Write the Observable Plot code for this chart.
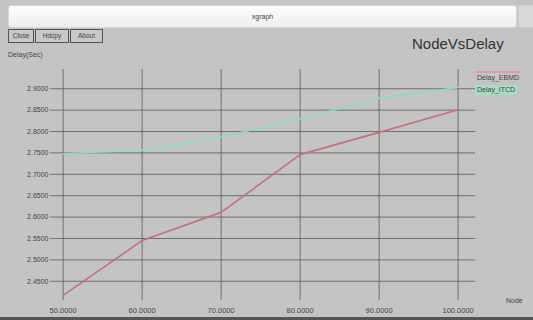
<!DOCTYPE html>
<html>
<head>
<meta charset="utf-8">
<script src="https://cdn.jsdelivr.net/npm/d3@7"></script>
<script src="https://cdn.jsdelivr.net/npm/@observablehq/plot@0.6"></script>
<style>
  html, body { margin: 0; padding: 0; background: #c4c4c4; }
  #win { position: relative; width: 533px; height: 320px; overflow: hidden; background: #c4c4c4;
         font-family: "Liberation Sans", Arial, sans-serif; color: #333; }
  #titlebar { position: absolute; left: 8px; top: 5px; width: 507px; height: 21px;
              background: linear-gradient(#fdfdfd, #eeeeee); border: 1px solid #d8d8d8; border-radius: 3px;
              text-align: center; font-size: 7px; line-height: 21px; color: #444; }
  #closebox { position: absolute; left: 518px; top: 5px; width: 15px; height: 21px; background: #d9d9d9; border: 1px solid #cfcfcf; }
  .btn { position: absolute; top: 29px; height: 12px; border: 1px solid #555; font-size: 6.5px; line-height: 12px;
         text-align: center; color: #444; background: #c8c8c8; }
  #maintitle { position: absolute; left: 412px; top: 35px; font-size: 15px; color: #333; }
  #ylab { position: absolute; left: 8px; top: 51px; font-size: 7px; color: #444; }
  #xlab { position: absolute; left: 506px; top: 297px; font-size: 7px; color: #444; }
  .leg { position: absolute; left: 475px; font-size: 7px; color: #444; padding: 0 2px; line-height: 10px; }
  #bottom { position: absolute; left: 0; top: 317px; width: 533px; height: 3px; background: #555; }
  #plot { position: absolute; left: 0; top: 0; }
</style>
</head>
<body>
<div id="win">
  <div id="titlebar">xgraph</div>
  <div id="closebox"></div>
  <div class="btn" style="left:8px;width:24px;">Close</div>
  <div class="btn" style="left:35px;width:32px;">Hdcpy</div>
  <div class="btn" style="left:70px;width:31px;">About</div>
  <div id="maintitle">NodeVsDelay</div>
  <div id="ylab">Delay(Sec)</div>
  <div id="plot"></div>
  <div id="xlab">Node</div>
  <div class="leg" style="top:71px;border-top:2px solid #d9a0ac;">Delay_EBMD</div>
  <div class="leg" style="top:85px;background:#a8dcc6;">Delay_ITCD</div>
  <div id="bottom"></div>
</div>
<script>
const nodes = [50, 60, 70, 80, 90, 100];
const delayEBMD = [2.417, 2.545, 2.611, 2.746, 2.798, 2.851];
const delayITCD = [2.748, 2.757, 2.787, 2.830, 2.878, 2.903];
const yTicks = [2.45, 2.50, 2.55, 2.60, 2.65, 2.70, 2.75, 2.80, 2.85, 2.90];
const xTicks = [50, 60, 70, 80, 90, 100];
const seriesNames = ["Delay_EBMD", "Delay_ITCD"];
const seriesColors = ["#c07282", "#92dabe"];

const rows = [];
nodes.forEach((n, i) => {
  rows.push({node: n, delay: delayEBMD[i], series: seriesNames[0]});
  rows.push({node: n, delay: delayITCD[i], series: seriesNames[1]});
});

const chart = Plot.plot({
  width: 533,
  height: 320,
  marginTop: 69,
  marginBottom: 20,
  marginLeft: 50,
  marginRight: 58,
  style: {background: "transparent", fontFamily: "Liberation Sans, Arial, sans-serif", fontSize: "7px", color: "#444"},
  x: {domain: [48.4, 102.2], ticks: xTicks},
  y: {domain: [2.405, 2.945], ticks: yTicks},
  color: {domain: seriesNames, range: seriesColors},
  marks: [
    Plot.gridY(yTicks, {stroke: "#5a5a5a", strokeOpacity: 0.8, strokeWidth: 1}),
    Plot.gridX(xTicks, {stroke: "#5a5a5a", strokeOpacity: 0.8, strokeWidth: 1}),
    Plot.axisY(yTicks, {tickSize: 0, tickPadding: 2, tickFormat: d3.format(".4f"), label: null, fill: "#444"}),
    Plot.axisX(xTicks, {tickSize: 0, tickPadding: 7, tickFormat: d3.format(".4f"), label: null, fill: "#444", fontSize: 7.5}),
    Plot.line(rows, {x: "node", y: "delay", z: "series", stroke: "series", strokeWidth: 1.6})
  ]
});
document.getElementById("plot").appendChild(chart);
</script>
</body>
</html>
